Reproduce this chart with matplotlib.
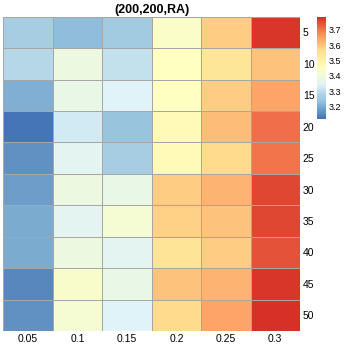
import numpy as np
import matplotlib
matplotlib.use("Agg")
import matplotlib.pyplot as plt
from matplotlib.colors import LinearSegmentedColormap

plt.rcParams['font.family'] = ['Liberation Sans', 'DejaVu Sans']

# columns / rows of the heatmap
cols = ["0.05", "0.1", "0.15", "0.2", "0.25", "0.3"]
rows = ["5", "10", "15", "20", "25", "30", "35", "40", "45", "50"]

# values (row by row)
r5 = [3.266, 3.230, 3.253, 3.439, 3.586, 3.772]
r10 = [3.286, 3.386, 3.306, 3.446, 3.539, 3.599]
r15 = [3.213, 3.379, 3.343, 3.446, 3.586, 3.639]
r20 = [3.120, 3.320, 3.246, 3.466, 3.612, 3.707]
r25 = [3.160, 3.359, 3.266, 3.472, 3.569, 3.705]
r30 = [3.180, 3.386, 3.373, 3.586, 3.625, 3.752]
r35 = [3.200, 3.353, 3.419, 3.579, 3.605, 3.752]
r40 = [3.206, 3.386, 3.359, 3.552, 3.586, 3.745]
r45 = [3.153, 3.426, 3.373, 3.605, 3.625, 3.778]
r50 = [3.160, 3.419, 3.343, 3.572, 3.639, 3.785]

cbar_ticks = [3.2, 3.3, 3.4, 3.5, 3.6, 3.7]

Z = np.array([r5, r10, r15, r20, r25, r30, r35, r40, r45, r50])

# pheatmap default palette: rev(brewer.pal(7, "RdYlBu"))
cmap = LinearSegmentedColormap.from_list(
    "rdylbu7", ["#4575b4", "#91bfdb", "#e0f3f8", "#ffffbf",
                "#fee090", "#fc8d59", "#d73027"], N=100)
vmin, vmax = Z.min(), Z.max()

W = H = 345
fig = plt.figure(figsize=(W / 100, H / 100), dpi=100)

def px(x0, y0, x1, y1):
    return [x0 / W, 1 - y1 / H, (x1 - x0) / W, (y1 - y0) / H]

ax = fig.add_axes(px(3.3, 16.7, 300, 331))
ax.pcolormesh(Z, cmap=cmap, vmin=vmin, vmax=vmax,
              edgecolors="#a6a6a6", linewidth=0.7)
ax.set_xlim(0, len(cols))
ax.set_ylim(len(rows), 0)
ax.set_xticks(np.arange(len(cols)) + 0.5)
ax.set_xticklabels(cols, fontsize=7.5)
ax.set_yticks(np.arange(len(rows)) + 0.5)
ax.set_yticklabels(rows, fontsize=7.5)
ax.yaxis.tick_right()
ax.tick_params(length=0, pad=2)
for s in ax.spines.values():
    s.set_visible(False)
ax.set_title("(200,200,RA)", fontsize=9, fontweight="bold", pad=3)

cax = fig.add_axes(px(317, 16.7, 325.5, 119))
grad = np.linspace(vmin, vmax, 200).reshape(-1, 1)
cax.pcolormesh([0, 1], np.linspace(vmin, vmax, 201), grad,
               cmap=cmap, vmin=vmin, vmax=vmax)
cax.set_ylim(vmin, vmax)
cax.set_xticks([])
cax.yaxis.tick_right()
cax.set_yticks(cbar_ticks)
cax.set_yticklabels([str(t) for t in cbar_ticks], fontsize=6.5)
cax.tick_params(length=0, pad=2)
for s in cax.spines.values():
    s.set_visible(False)

fig.savefig("out.png", dpi=100)
